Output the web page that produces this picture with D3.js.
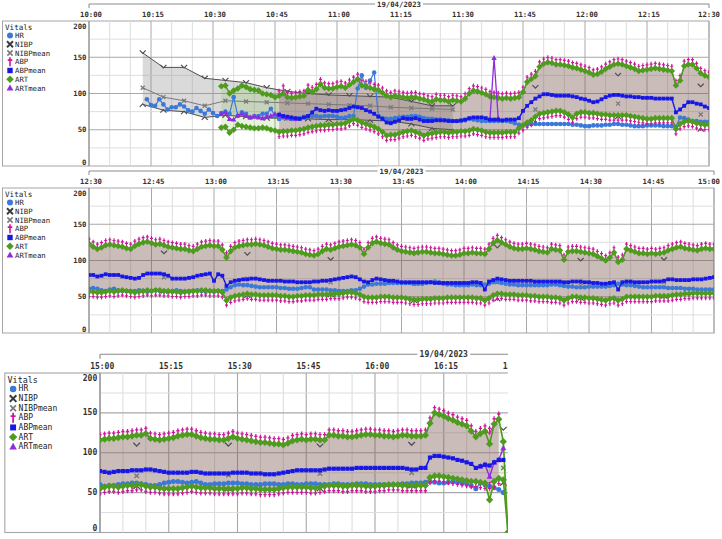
<!DOCTYPE html>
<html><head><meta charset="utf-8">
<script src="https://cdn.jsdelivr.net/npm/d3@7/dist/d3.min.js"></script>
<style>
html,body{margin:0;padding:0;background:#fff;}
svg{display:block;font-family:"DejaVu Sans Mono",monospace;}
</style></head><body>
<svg id="chart" width="722" height="539"></svg>
<script>
// ---------------- DATA ----------------
const dateLabel = "19/04/2023";
const panelStarts = ["10:00", "12:30", "15:00"];
const yTickValues = [0, 50, 100, 150, 200];
const legendNames = ["HR", "NIBP", "NIBPmean", "ABP", "ABPmean", "ART", "ARTmean"];

// one value per minute from the start time
const hrStart = "10:14";
const hrValues = [
92,84,83,92,85,78,81,81,85,82, 77,75,80,76,72,78,73,69,73,75, 72,95,69,74,72,67,69,69,72,72,
79,69,65,67,66,65,65,66,68,68, 69,69,68,69,69,69,68,66,67,69, 69,107,125,108,118,129,69,66,65,65,
66,67,68,68,69,69,68,66,65,65, 64,64,63,63,62,62,62,63,65,64, 63,62,62,62,62,62,62,62,61,59,
57,56,57,58,58,58,58,58,58,58, 58,58,58,57,57,56,55,55,56,56, 56,57,57,58,58,57,57,56,55,55,
55,56,56,56,56,55,55,55,54,67, 66,64,62,62,61,61,61,
62,61,59,58,60,61,59,58,58,58, 58,59,58,57,58,59,58,58,57,58, 59,58,57,58,58,59,58,57,58,57,
58,58,60,63,66,67,66,66,65,64, 63,63,63,63,63,62,62,61,61,61, 62,63,63,60,60,60,60,59,59,58,
58,58,59,59,61,64,67,67,68,68, 68,69,69,69,69,69,69,68,68,68, 69,70,71,70,68,67,67,66,66,66,
66,67,66,66,67,68,70,71,69,68, 67,67,66,66,66,66,66,66,66,66, 67,67,66,65,64,64,63,63,63,64,
64,64,64,64,65,66,68,67,66,66, 65,64,63,63,63,63,63,63,62,62, 62,62,61,61,61,60,60,60,60,60,
58,59,59,60,61,61,62,62,61,60, 59,59,60,62,63,64,64,63,62,63, 64,62,60,60,61,61,61,62,62,62,
61,61,60,60,60,61,61,61,60,60, 61,61,60,60,61,61,61,60,60,60, 61,61,60,60,60,61,61,61,60,60,
60,60,60,60,60,61,61,62,62,62, 63,64,63,62,62,63,64,63,62,61, 59,55,62,60,58,56,54,50];

const artStart = "10:32";
const artSys = [
110,111,100,104,107,111,109,106,105,104, 100,99,98,95,97,100,95,94,95,96, 97,105,102,106,113,108,107,107,109,110,
108,112,116,120,111,110,108,106,105,101, 97,95,97,96,95,94,95,95,93,92, 90,89,92,91,91,89,91,90,89,93,
100,104,103,101,99,96,95,94,93,94, 93,94,95,102,116,120,124,137,141,143, 142,140,140,139,138,136,135,133,131,129,
126,127,130,134,137,140,141,140,138,136, 134,131,132,133,134,135,134,133,132,131, 111,118,138,140,140,135,128,125,123,
119,116,118,121,122,121,120,119,117,116, 120,123,125,126,124,122,123,121,119,118, 117,116,116,114,113,116,119,120,121,120,
120,115,104,113,118,120,121,122,122,123, 122,121,119,117,116,115,115,114,113,112, 111,109,108,107,109,113,116,115,117,119,
120,121,122,121,118,109,118,124,126,124, 123,122,118,115,113,112,111,110,111,112, 112,111,110,110,109,108,107,107,108,110,
110,111,110,110,109,116,124,128,125,122, 119,117,116,116,117,116,115,113,112,111, 116,115,114,101,112,113,113,112,111,110,
109,106,103,100,104,111,98,101,116,114, 112,110,110,109,110,109,110,111,114,116, 118,119,117,116,115,114,116,117,116,116,
117,118,118,119,120,120,121,122,122,124, 118,117,116,117,118,119,121,122,123,123, 121,119,118,117,117,116,116,118,120,118,
117,116,115,114,113,113,112,111,111,110, 112,115,116,117,116,117,117,116,116,122, 122,121,121,120,120,121,122,123,123,122,
122,121,121,120,121,122,122,121,121,121, 122,137,150,148,146,143,141,138,136,134, 127,120,124,127,111,136,142,114,0];
const artDia = [
53,54,46,50,57,55,54,53,52,52, 53,52,50,49,47,48,48,49,49,50, 51,53,54,55,56,56,57,57,58,58,
59,62,65,63,60,58,56,54,51,47, 42,43,43,45,47,48,49,47,45,42, 44,45,46,47,47,46,47,47,48,48,
49,51,50,49,47,46,46,46,46,47, 47,47,52,56,60,63,68,72,73,74, 75,76,76,74,71,67,72,74,74,73,
73,72,71,71,70,70,70,70,70,69, 68,67,66,65,65,66,66,66,66,66, 51,58,61,62,61,59,58,57,57,
57,56,56,57,58,57,58,59,58,57, 56,57,58,59,58,59,59,58,58,57, 57,56,57,57,58,58,59,59,58,58,
58,56,45,49,51,52,53,54,53,53, 52,52,52,52,52,51,51,50,50,51, 51,52,52,52,53,53,53,54,54,54,
55,56,56,55,53,50,49,49,49,50, 50,50,49,49,49,48,47,46,46,47, 47,47,48,48,48,49,49,49,49,49,
49,49,48,48,45,48,52,54,54,53, 53,53,52,52,52,51,51,50,50,50, 49,49,48,45,48,50,50,49,49,48,
48,47,46,45,47,48,45,47,50,50, 50,50,50,50,50,51,51,51,51,52, 53,53,54,54,55,55,55,55,55,55,
57,58,58,57,58,59,59,60,60,58, 57,57,56,55,55,55,55,56,57,58, 57,56,56,56,55,55,55,55,55,55,
56,56,55,55,54,54,54,54,55,56, 57,57,57,57,57,56,56,57,58,59, 59,59,58,58,59,59,59,58,58,58,
59,59,60,60,60,59,59,59,59,59, 59,69,71,71,70,69,68,67,66,65, 64,64,63,62,41,64,68,66,0];

const abpStart = "10:46";
const abpSys = [
97,104,95,94,95,96, 97,105,102,106,113,108,107,107,109,110, 108,112,116,120,111,110,108,106,105,101,
97,95,97,96,95,94,95,95,93,92, 90,89,92,91,91,89,91,90,89,93, 100,104,103,101,99,96,95,94,93,94,
93,94,95,102,116,120,124,137,141,143, 142,140,140,139,138,136,135,133,131,129, 126,127,130,134,137,140,141,140,138,136,
134,131,132,133,134,135,134,133,132,131, 111,118,138,140,140,135,128,125,123,
119,116,118,121,122,121,120,119,117,116, 120,123,125,126,124,122,123,121,119,118, 117,116,116,114,113,116,119,120,121,120,
120,115,104,113,118,120,121,122,122,123, 122,121,119,117,116,115,115,114,113,112, 111,109,108,107,109,113,116,115,117,119,
120,121,122,121,118,109,118,124,126,124, 123,122,118,115,113,112,111,110,111,112, 112,111,110,110,109,108,107,107,108,110,
110,111,110,110,109,116,124,128,125,122, 119,117,116,116,117,116,115,113,112,111, 116,115,114,101,112,113,113,112,111,110,
109,106,103,100,104,111,98,101,116,114, 112,110,110,109,110,109,110,111,114,116, 118,119,117,116,115,114,116,117,116,116,
117,118,118,119,120,120,121,122,122,124, 118,117,116,117,118,119,121,122,123,123, 121,119,118,117,117,116,116,118,120,118,
117,116,115,114,113,113,112,111,111,110, 112,115,116,117,116,117,117,116,116,122, 122,121,121,120,120,121,122,123,123,122,
122,121,121,120,121,122,122,121,121,121, 122,137,150,148,146,143,141,138,136,134, 127,120,124,127,124,136,142];
const abpDia = [
47,48,48,49,49,50, 51,53,54,55,56,56,57,57,58,58, 59,62,65,63,60,58,56,54,51,47,
42,43,43,45,47,48,49,47,45,42, 44,45,46,47,47,46,47,47,48,48, 49,51,50,49,47,46,46,46,46,47,
47,47,52,56,60,63,68,72,73,74, 75,76,76,74,71,67,72,74,74,73, 73,72,71,71,70,70,70,70,70,69,
68,67,66,65,65,66,66,66,66,66, 51,58,61,62,61,59,58,57,57,
57,56,56,57,58,57,58,59,58,57, 56,57,58,59,58,59,59,58,58,57, 57,56,57,57,58,58,59,59,58,58,
58,56,45,49,51,52,53,54,53,53, 52,52,52,52,52,51,51,50,50,51, 51,52,52,52,53,53,53,54,54,54,
55,56,56,55,53,50,49,49,49,50, 50,50,49,49,49,48,47,46,46,47, 47,47,48,48,48,49,49,49,49,49,
49,49,48,48,45,48,52,54,54,53, 53,53,52,52,52,51,51,50,50,50, 49,49,48,45,48,50,50,49,49,48,
48,47,46,45,47,48,45,47,50,50, 50,50,50,50,50,51,51,51,51,52, 53,53,54,54,55,55,55,55,55,55,
57,58,58,57,58,59,59,60,60,58, 57,57,56,55,55,55,55,56,57,58, 57,56,56,56,55,55,55,55,55,55,
56,56,55,55,54,54,54,54,55,56, 57,57,57,57,57,56,56,57,58,59, 59,59,58,58,59,59,59,58,58,58,
59,59,60,60,60,59,59,59,59,59, 59,69,71,71,70,69,68,67,66,65, 64,64,63,62,62,64,68];
const abpMean = [
71,69,68,67,66,65, 67,69,74,79,77,76,77,76,76,77, 78,80,82,81,80,77,75,72,68,65,
60,59,61,63,66,65,65,66,64,62, 62,62,63,63,63,62,62,62,63,64, 66,67,67,67,66,64,64,64,63,64,
64,64,66,76,83,88,93,96,99,99, 98,97,97,97,97,96,95,93,92,90, 88,89,92,95,97,98,98,97,96,96,
95,95,94,94,94,93,93,93,93,93, 74,78,83,88,88,86,85,82,80,
80,78,79,81,80,80,80,78,77,76, 75,76,80,82,82,82,82,81,79,75, 75,75,75,76,77,79,80,81,82,72,
81,79,65,70,72,73,74,74,75,75, 74,73,72,72,72,72,71,71,71,70, 70,70,70,71,71,72,72,73,74,75,
76,77,78,77,74,71,70,73,75,74, 73,72,72,71,70,70,70,70,70,70, 70,70,69,69,69,69,69,69,69,69,
69,70,70,69,60,71,73,75,74,73, 72,72,72,72,72,72,71,71,71,71, 71,71,71,70,70,71,71,71,70,70,
69,69,68,68,69,70,60,70,71,71, 70,70,70,70,71,71,71,72,74,74, 73,73,73,73,74,74,74,75,76,77,
76,75,76,77,77,77,78,78,78,79, 79,78,77,76,75,75,75,75,75,76, 76,75,74,74,74,74,74,74,75,75,
75,75,74,74,74,73,73,73,74,75, 76,77,78,78,78,78,78,78,79,80, 80,80,80,80,80,81,81,81,81,81,
81,81,81,81,81,81,80,79,79,81, 81,94,96,96,95,94,93,91,90,88, 86,81,83,85,84,88,91,91];

// ARTmean is only visible where it differs from ABPmean
const artMeanStarts = ["10:32", "11:37", "16:23"];
const artMeanA = [72,74,65,64,70,72,69,67,68,67,66,68,69,72,70,68,67,66,65];
const artMeanB = [64,149,66];
const artMeanC = [83,85,70,88,91,106];

const nibpTimes = ["10:13","10:18","10:23","10:28","10:33","10:38","10:43","10:48","10:53","10:58","11:03","11:08","11:13","11:18","11:23","11:28",
  "11:48","12:08","12:28","12:48","13:08","13:28","13:48","14:08","14:28","14:48","15:08","15:28","15:48","16:08","16:28"];
const nibpSys  = [156,136,136,121,118,115,108,103,100,98,97,96,95,89,83,83,108,125,110,110,108,101,110,118,100,101,109,109,108,110,129];
const nibpMean = [108,95,90,83,90,89,88,87,86,85,84,83,81,80,79,78,78,86,71,77,75,70,68,70,69,70,71,72,74,75,81];
const nibpDia  = [85,77,75,67,70,68,66,66,65,64,64,63,62,58,52,50,60,68,51,58,52,53,45,47,48,51,58,55,55,59,62];

// ---------------- BUILD ----------------
const parseT = d3.timeParse("%Y-%m-%d %H:%M");
const tOf = hm => parseT("2023-04-19 " + hm);
const perMinute = (startHM, vals) => { const t0 = tOf(startHM); return vals.map((v, i) => ({ t: d3.timeMinute.offset(t0, i), v })); };

const HR = perMinute(hrStart, hrValues);
const ART = perMinute(artStart, artSys).map((p, i) => ({ t: p.t, s: p.v, d: artDia[i] }));
const ABP = perMinute(abpStart, abpSys).map((p, i) => ({ t: p.t, s: p.v, d: abpDia[i] }));
const ABPM = perMinute(abpStart, abpMean);
const ARTM = [artMeanA, artMeanB, artMeanC].map((a, i) => perMinute(artMeanStarts[i], a));
const NIBP = nibpTimes.map((h, i) => ({ t: tOf(h), s: nibpSys[i], m: nibpMean[i], d: nibpDia[i] }));
// NIBP lines only join readings taken close together
const nibpSegs = [];
NIBP.forEach((p, i) => {
  if (i === 0 || (p.t - NIBP[i - 1].t) > 6 * 60000) nibpSegs.push([]);
  nibpSegs[nibpSegs.length - 1].push(p);
});

const C = { hr: "#3a78da", nibp: "#505050", nibpMean: "#7a7a7a", abp: "#d0169e", abpMean: "#1717e6",
            art: "#4f9b1f", artMean: "#8f2be0" };

const L = 87, T = 17, H = 145;
const layout = [
  { tx: 2, ty: 4, s: 1, W: 620 },
  { tx: 2, ty: 171, s: 1, W: 625 },
  { tx: 4.3, ty: 354.3, s: 1.1, W: 625, clipX: 508 }
];
const FS = 7.3;
const svg = d3.select("#chart");
const defs = svg.append("defs");

const mk = {
  hr: g => g.append("circle").attr("r", 2.3).attr("fill", C.hr),
  abpMean: g => g.append("rect").attr("x", -1.9).attr("y", -1.9).attr("width", 3.8).attr("height", 3.8).attr("fill", C.abpMean),
  art: g => g.append("path").attr("d", "M0,-3.3L3.3,0L0,3.3L-3.3,0Z").attr("fill", C.art),
  artMean: g => g.append("path").attr("d", "M0,-2.9L2.7,2L-2.7,2Z").attr("fill", C.artMean),
  abpUp: g => g.append("path").attr("d", "M0,1V-7M-1.5,-4.8H1.5").attr("stroke", C.abp).attr("stroke-width", 1.2).attr("fill", "none"),
  abpDown: g => g.append("path").attr("d", "M0,-1V7M-1.5,4.8H1.5").attr("stroke", C.abp).attr("stroke-width", 1.2).attr("fill", "none"),
  nibpUp: g => g.append("path").attr("d", "M-3,-2.5L0,0.5L3,-2.5").attr("stroke", C.nibp).attr("stroke-width", 1.2).attr("fill", "none"),
  nibpDown: g => g.append("path").attr("d", "M-3,2.5L0,-0.5L3,2.5").attr("stroke", C.nibp).attr("stroke-width", 1.2).attr("fill", "none"),
  nibpMean: g => g.append("path").attr("d", "M-2,-2L2,2M-2,2L2,-2").attr("stroke", C.nibpMean).attr("stroke-width", 1.3).attr("fill", "none")
};
function markers(parent, data, xf, yf, kind) {
  const sel = parent.append("g").selectAll("g").data(data).join("g")
    .attr("transform", d => `translate(${xf(d)},${yf(d)})`);
  sel.each(function () { mk[kind](d3.select(this)); });
}

panelStarts.forEach((startHM, pi) => {
  const P = layout[pi];
  const t0 = tOf(startHM), t1 = d3.timeMinute.offset(t0, 150);
  const host = svg.append("g");
  if (P.clipX) {
    defs.append("clipPath").attr("id", "pc" + pi).append("rect").attr("x", 0).attr("y", 0).attr("width", P.clipX).attr("height", 539);
    host.attr("clip-path", `url(#pc${pi})`);
  }
  const g = host.append("g").attr("transform", `translate(${P.tx},${P.ty}) scale(${P.s})`);
  const x = d3.scaleTime().domain([t0, t1]).range([L, L + P.W]);
  const y = d3.scaleLinear().domain([0, 200]).range([T + H, T]);

  // frame
  g.append("rect").attr("x", 0.5).attr("y", T).attr("width", L + P.W - 0.5).attr("height", H)
    .attr("fill", "#fff").attr("stroke", "#a5a5a5");

  // grid
  const grid = g.append("g");
  x.ticks(d3.timeMinute.every(5)).forEach(t => {
    const major = t.getMinutes() % 15 === 0;
    grid.append("line").attr("x1", x(t)).attr("x2", x(t)).attr("y1", T).attr("y2", T + H)
      .attr("stroke", major ? "#a8a8a8" : "#dedede").attr("stroke-width", 1);
  });
  [25, 50, 75, 100, 125, 150, 175].forEach(v => {
    const major = v % 50 === 0;
    grid.append("line").attr("x1", L).attr("x2", L + P.W).attr("y1", y(v)).attr("y2", y(v))
      .attr("stroke", major ? "#a8a8a8" : "#dedede").attr("stroke-width", 1);
  });
  g.append("line").attr("x1", L).attr("x2", L).attr("y1", T).attr("y2", T + H).attr("stroke", "#8a8a8a");

  // y labels
  yTickValues.forEach(v => {
    let yy = y(v);
    if (v === 200) yy = T + 5; else if (v === 0) yy = T + H - 3.5;
    g.append("text").attr("x", L - 2.5).attr("y", yy).attr("text-anchor", "end").attr("dominant-baseline", "central")
      .attr("font-size", FS).attr("font-weight", "bold").attr("fill", "#333").text(v);
  });

  // top axis
  g.append("line").attr("x1", L).attr("x2", L + P.W).attr("y1", 0).attr("y2", 0).attr("stroke", "#8a8a8a");
  [L, L + P.W].forEach(xx => g.append("line").attr("x1", xx).attr("x2", xx).attr("y1", 0).attr("y2", 4).attr("stroke", "#8a8a8a"));
  const bound = (720 - P.tx) / P.s;
  const fmt = d3.timeFormat("%H:%M");
  x.ticks(d3.timeMinute.every(15)).forEach(t => {
    const cx = Math.min(x(t) + 2, bound - 11);
    g.append("text").attr("x", cx).attr("y", 10.7).attr("text-anchor", "middle").attr("dominant-baseline", "central")
      .attr("font-size", FS).attr("font-weight", "bold").attr("fill", "#333").text(fmt(t));
  });
  const dc = L + P.W / 2;
  g.append("rect").attr("x", dc - 24).attr("y", -4.5).attr("width", 48).attr("height", 9).attr("fill", "#fff");
  g.append("text").attr("x", dc).attr("y", 0).attr("text-anchor", "middle").attr("dominant-baseline", "central")
    .attr("font-size", FS).attr("font-weight", "bold").attr("fill", "#333").text(dateLabel);

  // legend
  g.append("text").attr("x", 3).attr("y", T + 6).attr("dominant-baseline", "central").attr("font-size", FS + 0.3)
    .attr("fill", "#222").text("Vitals");
  legendNames.forEach((nm, i) => {
    const ly = T + 14.5 + i * 8.75;
    const s = g.append("g").attr("transform", `translate(8,${ly})`);
    if (nm === "HR") s.append("circle").attr("r", 3).attr("fill", C.hr);
    if (nm === "NIBP") s.append("path").attr("d", "M-3,-3L3,3M-3,3L3,-3").attr("stroke", "#3a3a3a").attr("stroke-width", 1.9);
    if (nm === "NIBPmean") s.append("path").attr("d", "M-2.6,-2.6L2.6,2.6M-2.6,2.6L2.6,-2.6").attr("stroke", C.nibpMean).attr("stroke-width", 1.6);
    if (nm === "ABP") s.append("path").attr("d", "M0,-4.5V4.5M-2.3,-1.6H2.3").attr("stroke", C.abp).attr("stroke-width", 1.6);
    if (nm === "ABPmean") s.append("rect").attr("x", -2.7).attr("y", -2.7).attr("width", 5.4).attr("height", 5.4).attr("fill", C.abpMean);
    if (nm === "ART") s.append("path").attr("d", "M0,-3.8L3.8,0L0,3.8L-3.8,0Z").attr("fill", C.art);
    if (nm === "ARTmean") s.append("path").attr("d", "M0,-3.6L3.4,2.6L-3.4,2.6Z").attr("fill", C.artMean);
    g.append("text").attr("x", 13).attr("y", ly).attr("dominant-baseline", "central").attr("font-size", FS)
      .attr("fill", "#222").text(nm);
  });

  // series
  defs.append("clipPath").attr("id", "pp" + pi).append("rect").attr("x", L).attr("y", T).attr("width", P.W).attr("height", H);
  const pg = g.append("g").attr("clip-path", `url(#pp${pi})`);
  const X = d => x(d.t);
  const band = d3.area().x(X).y0(d => y(d.d)).y1(d => y(d.s));
  const ln = key => d3.line().x(X).y(d => y(d[key]));

  nibpSegs.forEach(seg => pg.append("path").attr("d", band(seg)).attr("fill", "rgba(140,140,140,0.32)"));
  pg.append("path").attr("d", band(ABP)).attr("fill", "rgba(150,40,120,0.30)");
  pg.append("path").attr("d", band(ART)).attr("fill", "rgba(90,180,20,0.15)");

  nibpSegs.forEach(seg => {
    ["s", "d"].forEach(k => pg.append("path").attr("d", ln(k)(seg)).attr("fill", "none").attr("stroke", C.nibp).attr("stroke-width", 1));
    pg.append("path").attr("d", ln("m")(seg)).attr("fill", "none").attr("stroke", C.nibpMean).attr("stroke-width", 1);
  });
  markers(pg, NIBP, X, d => y(d.s), "nibpUp");
  markers(pg, NIBP, X, d => y(d.d), "nibpDown");
  markers(pg, NIBP, X, d => y(d.m), "nibpMean");

  pg.append("path").attr("d", ln("v")(HR)).attr("fill", "none").attr("stroke", C.hr).attr("stroke-width", 1.2);
  markers(pg, HR, X, d => y(d.v), "hr");

  ["s", "d"].forEach(k => pg.append("path").attr("d", ln(k)(ABP)).attr("fill", "none").attr("stroke", C.abp).attr("stroke-width", 1));
  markers(pg, ABP, X, d => y(d.s), "abpUp");
  markers(pg, ABP, X, d => y(d.d), "abpDown");

  ["s", "d"].forEach(k => pg.append("path").attr("d", ln(k)(ART)).attr("fill", "none").attr("stroke", C.art).attr("stroke-width", 1.5));
  markers(pg, ART, X, d => y(d.s), "art");
  markers(pg, ART, X, d => y(d.d), "art");

  ARTM.forEach(seg => {
    pg.append("path").attr("d", ln("v")(seg)).attr("fill", "none").attr("stroke", C.artMean).attr("stroke-width", 1.3);
    markers(pg, seg, X, d => y(d.v), "artMean");
  });

  pg.append("path").attr("d", ln("v")(ABPM)).attr("fill", "none").attr("stroke", C.abpMean).attr("stroke-width", 1.4);
  markers(pg, ABPM, X, d => y(d.v), "abpMean");
});
</script>
</body></html>
